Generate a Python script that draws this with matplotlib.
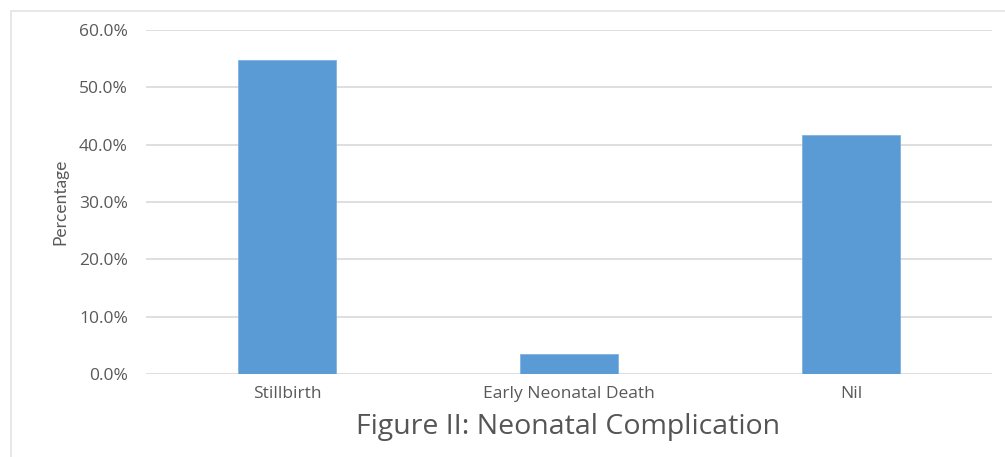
import matplotlib
matplotlib.use("Agg")
import matplotlib.pyplot as plt
from matplotlib.patches import Rectangle
from matplotlib.ticker import PercentFormatter

# neonatal complication shares
categories = ["Stillbirth", "Early Neonatal Death", "Nil"]
percentages = [54.8, 3.5, 41.7]
y_ticks = [0, 10, 20, 30, 40, 50, 60]

text_grey = "#595959"
bar_blue = "#5B9BD5"
grid_grey = "#D9D9D9"

plt.rcParams["font.family"] = ["Open Sans", "DejaVu Sans"]

fig = plt.figure(figsize=(10.05, 4.57), dpi=100)

# light frame around the chart area
frame = Rectangle((11 / 1005, -0.1), 1.2, 1.1 - 11 / 457, transform=fig.transFigure,
                  fill=False, edgecolor="#E3E3E3", linewidth=1.2)
fig.patches.append(frame)

ax = fig.add_axes([146 / 1005, 83 / 457, 846 / 1005, 344 / 457])
x = range(len(categories))
ax.bar(x, percentages, width=0.35, color=bar_blue, edgecolor="#7FB2E0", linewidth=0.6, zorder=3)

ax.set_xlim(-0.5, len(categories) - 0.5)
ax.set_ylim(0, 60)
ax.set_yticks(y_ticks)
ax.yaxis.set_major_formatter(PercentFormatter(decimals=1))
ax.set_xticks(list(x))
ax.set_xticklabels(categories)

ax.grid(axis="y", color=grid_grey, linewidth=1.2, zorder=0)
for side in ["top", "right", "left", "bottom"]:
    ax.spines[side].set_visible(False)
ax.tick_params(axis="both", length=0, colors=text_grey, labelsize=12.5)
ax.tick_params(axis="y", pad=13)
ax.tick_params(axis="x", pad=9)

ax.set_ylabel("Percentage", color=text_grey, fontsize=12.5,
              family=["Lato", "DejaVu Sans"], labelpad=8)

fig.text(568 / 1005, 1 - 427 / 457, "Figure II: Neonatal Complication",
         ha="center", va="center", fontsize=20.5, color="#555555")

fig.savefig("out.png", dpi=100)
